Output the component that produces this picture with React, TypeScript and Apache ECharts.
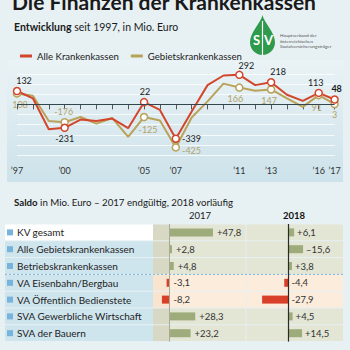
import React, { useEffect, useRef } from "react";
import * as echarts from "echarts";

// ---------- DATA ----------
const years = ["1997","1998","1999","2000","2001","2002","2003","2004","2005","2006","2007","2008","2009","2010","2011","2012","2013","2014","2015","2016","2017"];
const alleKrankenkassen = [132, 60, -245, -231, -150, -165, -140, -235, 22, -55, -339, -70, 190, 285, 292, 190, 218, 95, 35, 113, 48];
const gebietskrankenkassen = [108, 85, -165, -176, -125, -190, -135, -320, -125, -160, -425, -130, 30, 205, 166, 135, 147, 60, -25, 91, 3];
const markedYears = ["1997","2000","2005","2007","2011","2013","2016","2017"];
const yearTickLabels = ["’97","’00","’05","’07","’11","’13","’16","’17"];

const saldoCategories = ["KV gesamt","Alle Gebietskrankenkassen","Betriebskrankenkassen","VA Eisenbahn/Bergbau","VA Öffentlich Bedienstete","SVA Gewerbliche Wirtschaft","SVA der Bauern"];
const saldo2017 = [47.8, 2.8, 4.8, -3.1, -8.2, 28.3, 23.2];
const saldo2018 = [6.1, 15.6, 3.8, -4.4, -27.9, 4.5, 14.5];
const saldo2017Labels = ["+47,8","+2,8","+4,8","-3,1","-8,2","+28,3","+23,2"];
const saldo2018Labels = ["+6,1","–15,6","+3,8","-4,4","-27,9","+4,5","+14,5"];

// ---------- STYLE ----------
const RED = "#d2462c";
const OLIVE = "#b9a259";
const OLIVE_TEXT = "#b3a36b";
const GREEN_BAR = "#9eac7b";
const RED_BAR = "#d9402a";
const FONT = "Lato";

const redLabelPos: Record<string, [string, number[]]> = {
  "1997": ["top", [7, 0]], "2000": ["bottom", [0, 0]], "2005": ["top", [1, 0]], "2007": ["right", [0, 0]],
  "2011": ["top", [7, 1]], "2013": ["top", [7, 0]], "2016": ["top", [-3, 0]], "2017": ["top", [2, 0]],
};
const oliveLabelPos: Record<string, [string, number[]]> = {
  "1997": ["bottom", [3, 0]], "2000": ["top", [-1, 0]], "2005": ["bottom", [4, 2]], "2007": ["right", [0, 3]],
  "2011": ["bottom", [-4, 0]], "2013": ["bottom", [-2, 0]], "2016": ["bottom", [-2, 2]], "2017": ["bottom", [0, 0]],
};

let shapeRegistered = false;
function registerLogo() {
  if (shapeRegistered) return;
  shapeRegistered = true;
  echarts.graphic.registerShape(
    "svdrop",
    echarts.graphic.extendPath(
      "M12.5 0 C13.5 7 25 17 25 27.5 C25 34.4 19.4 40 12.5 40 C5.6 40 0 34.4 0 27.5 C0 17 11.5 7 12.5 0 Z",
      {}
    ) as any
  );
}

function lineData(values: number[], color: string, pos: Record<string, [string, number[]]>, textColor: string, boldLast: boolean) {
  return years.map((y, i) => {
    if (!markedYears.includes(y)) return { value: values[i], symbol: "none" };
    const [p, off] = pos[y];
    return {
      value: values[i],
      symbol: "circle",
      symbolSize: 7,
      itemStyle: { color: "#ffffff", borderColor: color, borderWidth: 1.5 },
      label: {
        show: true,
        position: p,
        offset: off,
        distance: 2,
        color: textColor,
        fontSize: 9,
        fontFamily: FONT,
        fontWeight: boldLast && y === "2017" ? "bold" : "normal",
        formatter: String(values[i]),
      },
    };
  });
}

function buildOption() {
  const tableTop = 224;
  const rowH = 16.8;
  const tableH = rowH * saldoCategories.length;
  const peachRows = saldoCategories.map((_, i) => saldo2017[i] < 0 || saldo2018[i] < 0);

  const graphics: any[] = [];
  graphics.push({
    type: "rect",
    z: 0,
    shape: { x: 7, y: 60, width: 336, height: 122 },
    style: {
      fill: new echarts.graphic.LinearGradient(0, 0, 0, 1, [
        { offset: 0, color: "#eaf3f6" },
        { offset: 1, color: "#cde2ea" },
      ]),
    },
  });
  saldoCategories.forEach((_, i) => {
    const y = tableTop + i * rowH + 0.5;
    const h = rowH - 1;
    const peach = peachRows[i];
    graphics.push({ type: "rect", z: 0, shape: { x: 5, y, width: 148, height: h }, style: { fill: i === 0 ? "#ffffff" : "#cfe5ee" } });
    graphics.push({ type: "rect", z: 0, shape: { x: 153, y, width: 16.4, height: h }, style: { fill: peach ? "#f8e4cf" : "#d7d9c5" } });
    graphics.push({ type: "rect", z: 0, shape: { x: 169.4, y, width: 76.1, height: h }, style: { fill: peach ? "#fcecdb" : "#e3e5d5" } });
    graphics.push({ type: "rect", z: 0, shape: { x: 246.5, y, width: 96.5, height: h }, style: { fill: peach ? "#fcecdb" : "#e3e5d5" } });
  });
  graphics.push({
    type: "line",
    z: 1,
    shape: { x1: 5, y1: tableTop + 3 * rowH, x2: 343, y2: tableTop + 3 * rowH },
    style: { stroke: "#7fb1d3", lineWidth: 1, lineDash: [2, 2] },
  });
  graphics.push({
    type: "text", z: 5, x: 12, y: 1.5,
    style: { text: "Die Finanzen der Krankenkassen", fontSize: 21, fontWeight: "bold", fontFamily: FONT, fill: "#1a1a1a", verticalAlign: "middle" },
  });
  graphics.push({
    type: "text", z: 5, x: 14, y: 27,
    style: {
      text: "{b|Entwicklung}{r| seit 1997, in Mio. Euro}",
      verticalAlign: "middle",
      rich: {
        b: { fontSize: 10.5, fontWeight: "bold", fontFamily: FONT, fill: "#1a1a1a" },
        r: { fontSize: 10.5, fontFamily: FONT, fill: "#1a1a1a" },
      },
    },
  });
  graphics.push({
    type: "text", z: 5, x: 14, y: 202,
    style: {
      text: "{b|Saldo}{r| in Mio. Euro – 2017 endgültig, 2018 vorläufig}",
      verticalAlign: "middle",
      rich: {
        b: { fontSize: 9.7, fontWeight: "bold", fontFamily: FONT, fill: "#1a1a1a" },
        r: { fontSize: 9.7, fontFamily: FONT, fill: "#1a1a1a" },
      },
    },
  });
  graphics.push({
    type: "text", z: 5, x: 200, y: 215,
    style: { text: "2017", fontSize: 9.5, fontFamily: FONT, fill: "#222", align: "center", verticalAlign: "middle" },
  });
  graphics.push({
    type: "text", z: 5, x: 294, y: 215,
    style: { text: "2018", fontSize: 9.5, fontWeight: "bold", fontFamily: FONT, fill: "#111", align: "center", verticalAlign: "middle" },
  });
  graphics.push({ type: "svdrop", z: 5, x: 250, y: 15, style: { fill: "#2f9a4c" } });
  graphics.push({ type: "line", z: 6, shape: { x1: 262.5, y1: 21, x2: 262.5, y2: 55 }, style: { stroke: "#ffffff", lineWidth: 1.2 } });
  graphics.push({ type: "text", z: 6, x: 256.5, y: 40, style: { text: "S", fontSize: 13, fontWeight: "bold", fontFamily: FONT, fill: "#fff", align: "center", verticalAlign: "middle" } });
  graphics.push({ type: "text", z: 6, x: 268.5, y: 40, style: { text: "V", fontSize: 13, fontWeight: "bold", fontFamily: FONT, fill: "#fff", align: "center", verticalAlign: "middle" } });
  ["Hauptverband der", "österreichischen", "Sozialversicherungsträger"].forEach((t, i) => {
    graphics.push({ type: "text", z: 6, x: 280, y: 35 + i * 5.5, style: { text: t, fontSize: 4.6, fontFamily: FONT, fill: "#555", verticalAlign: "middle" } });
  });

  const rowLabelRich = {
    sq: { width: 6, height: 6, backgroundColor: "#77b3da" },
    t: { padding: [0, 0, 0, 4], fontSize: 10, fontFamily: FONT, color: "#222" },
  };

  return {
    animation: false,
    backgroundColor: "#e7f0f3",
    textStyle: { fontFamily: FONT },
    graphic: graphics,
    legend: {
      left: 15,
      top: 46,
      icon: "rect",
      itemWidth: 12,
      itemHeight: 3,
      itemGap: 12,
      textStyle: { fontSize: 9.6, fontFamily: FONT, color: "#222" },
      data: [
        { name: "Alle Krankenkassen", itemStyle: { color: RED } },
        { name: "Gebietskrankenkassen", itemStyle: { color: OLIVE } },
      ],
    },
    grid: [
      { left: 17, right: 15.4, top: 74, height: 81 },
      { left: 153, top: tableTop, width: 93, height: tableH },
      { left: 246, top: tableTop, width: 97, height: tableH },
    ],
    xAxis: [
      {
        type: "category",
        gridIndex: 0,
        data: years,
        boundaryGap: false,
        offset: 2,
        axisLine: { show: false },
        axisTick: { show: true, interval: 0, length: 5, lineStyle: { color: "#555", width: 1 } },
        axisLabel: {
          interval: (i: number) => markedYears.includes(years[i]),
          formatter: (v: string) => yearTickLabels[markedYears.indexOf(v)],
          fontSize: 9,
          fontFamily: FONT,
          color: "#333",
          margin: 9,
        },
        splitLine: { show: false },
      },
      { type: "value", gridIndex: 1, min: -18, max: 84, show: false },
      { type: "value", gridIndex: 2, min: -45, max: 58, show: false },
    ],
    yAxis: [
      {
        type: "value",
        gridIndex: 0,
        min: -500,
        max: 300,
        interval: 100,
        axisLabel: { show: false },
        axisLine: { show: false },
        axisTick: { show: false },
        splitLine: { lineStyle: { color: "rgba(255,255,255,0.75)", width: 1 } },
      },
      {
        type: "category",
        gridIndex: 1,
        inverse: true,
        data: saldoCategories,
        axisLine: { show: false, onZero: false },
        axisTick: { show: false },
        axisLabel: {
          margin: 146,
          align: "left",
          formatter: (v: string) => `{sq|}{t|${v}}`,
          rich: rowLabelRich,
        },
      },
      {
        type: "category",
        gridIndex: 2,
        inverse: true,
        data: saldoCategories,
        show: false,
      },
    ],
    series: [
      {
        name: "Gebietskrankenkassen",
        type: "line",
        xAxisIndex: 0,
        yAxisIndex: 0,
        color: OLIVE,
        lineStyle: { width: 2, color: OLIVE },
        showSymbol: true,
        data: lineData(gebietskrankenkassen, OLIVE, oliveLabelPos, OLIVE_TEXT, false),
        markLine: {
          silent: true,
          symbol: "none",
          label: { show: false },
          lineStyle: { color: "#34464d", width: 1, type: "solid" },
          data: [{ yAxis: 0 }],
        },
      },
      {
        name: "Alle Krankenkassen",
        type: "line",
        xAxisIndex: 0,
        yAxisIndex: 0,
        color: RED,
        lineStyle: { width: 2, color: RED },
        showSymbol: true,
        data: lineData(alleKrankenkassen, RED, redLabelPos, "#1a1a1a", true),
      },
      {
        type: "bar",
        xAxisIndex: 1,
        yAxisIndex: 1,
        barWidth: 8,
        barGap: "-100%",
        data: saldo2017.map((v) => ({ value: v, itemStyle: { color: v < 0 ? RED_BAR : GREEN_BAR } })),
        markLine: {
          silent: true,
          symbol: "none",
          label: { show: false },
          lineStyle: { color: "#a9ab98", width: 1, type: "solid" },
          data: [{ xAxis: 0 }],
        },
      },
      {
        type: "bar",
        xAxisIndex: 1,
        yAxisIndex: 1,
        barWidth: 8,
        barGap: "-100%",
        silent: true,
        itemStyle: { color: "rgba(0,0,0,0)" },
        data: saldo2017.map((v) => Math.max(v, 0)),
        label: {
          show: true,
          position: "right",
          distance: 4,
          fontSize: 9.5,
          fontFamily: FONT,
          color: "#333",
          formatter: (p: any) => saldo2017Labels[p.dataIndex],
        },
      },
      {
        type: "bar",
        xAxisIndex: 2,
        yAxisIndex: 2,
        barWidth: 8,
        barGap: "-100%",
        data: saldo2018.map((v) => ({ value: v, itemStyle: { color: v < 0 ? RED_BAR : GREEN_BAR } })),
        markLine: {
          silent: true,
          symbol: "none",
          label: { show: false },
          lineStyle: { color: "#2a2a2a", width: 1.2, type: "solid" },
          data: [{ xAxis: 0 }],
        },
      },
      {
        type: "bar",
        xAxisIndex: 2,
        yAxisIndex: 2,
        barWidth: 8,
        barGap: "-100%",
        silent: true,
        itemStyle: { color: "rgba(0,0,0,0)" },
        data: saldo2018.map((v) => Math.max(v, 0)),
        label: {
          show: true,
          position: "right",
          distance: 3,
          fontSize: 9.5,
          fontFamily: FONT,
          color: "#333",
          formatter: (p: any) => saldo2018Labels[p.dataIndex],
        },
      },
    ],
  };
}

export default function App() {
  const ref = useRef<HTMLDivElement>(null);
  useEffect(() => {
    registerLogo();
    const chart = echarts.init(ref.current!, null, { renderer: "svg" });
    chart.setOption(buildOption() as any);
    return () => chart.dispose();
  }, []);
  return <div ref={ref} style={{ position: "fixed", left: 0, top: 0, width: 350, height: 350 }} />;
}
